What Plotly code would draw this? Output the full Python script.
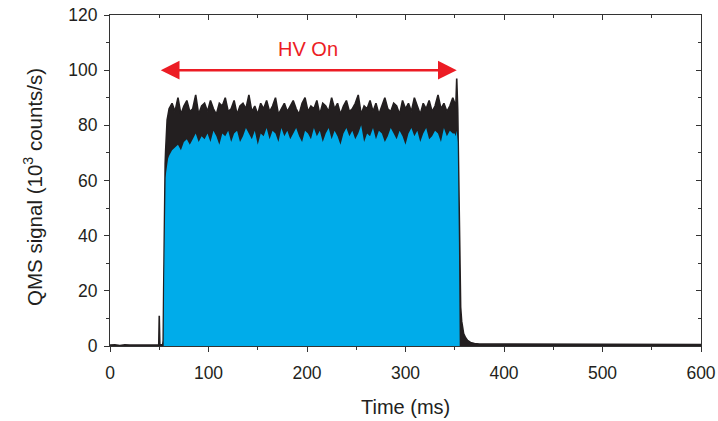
import plotly.graph_objects as go

# ---- data ----
# baseline before the pulse
pre_t = [0, 5, 10, 15, 20, 25, 30, 35, 40, 45, 49.5, 50, 50.6, 53.5]
pre_hi = [0.3, 0.4, 0.2, 0.4, 0.3, 0.3, 0.4, 0.2, 0.3, 0.4, 0.3, 11, 0.4, 0.4]
pre_lo = [0, 0, 0, 0, 0, 0, 0, 0, 0, 0, 0, 0, 0, 0]

# rising edge
rise_t = [54, 54.5, 55, 55.5, 56, 56.5, 57, 57.5, 58, 59]
rise_hi = [2, 20, 42, 58, 66, 71, 75, 79, 82, 84]
rise_lo = [0, 0, 25, 45, 56, 61, 63, 65, 66, 68]

# plateau (samples every 3 ms from 60 ms)
plat_t0, plat_dt = 60, 3
plat_hi = [86, 88, 85, 90, 84, 87, 89, 85, 86, 91, 84, 87, 88, 85, 89, 86, 84, 88, 87, 90,
           85, 86, 89, 84, 87, 88, 86, 91, 85, 87, 84, 88, 86, 89, 85, 87, 90, 84, 86, 88,
           85, 87, 89, 86, 84, 88, 90, 85, 87, 86, 89, 84, 88, 87, 85, 90, 86, 88, 84, 87,
           89, 85, 86, 88, 91, 84, 87, 86, 89, 85, 88, 84, 87, 90, 86, 85, 88, 87, 84, 89,
           86, 88, 85, 90, 87, 84, 88, 86, 89, 85, 87, 91, 86, 88, 85, 87, 90]
plat_lo = [69, 71, 72, 73, 71, 74, 75, 73, 75, 77, 74, 76, 75, 77, 74, 78, 76, 73, 77, 76,
           78, 74, 77, 78, 74, 76, 79, 77, 75, 78, 73, 77, 76, 79, 75, 78, 77, 74, 79, 76,
           78, 75, 77, 79, 76, 74, 78, 77, 75, 79, 76, 78, 74, 77, 79, 75, 78, 76, 73, 77,
           79, 76, 78, 75, 77, 80, 74, 77, 76, 79, 75, 78, 77, 74, 76, 79, 77, 75, 78, 76,
           73, 77, 79, 76, 78, 74, 77, 79, 75, 76, 78, 77, 74, 79, 76, 78, 77]

# falling edge
fall_t = [350, 351, 352, 353, 353.6, 354.2, 355, 356, 357, 358, 359, 361, 363, 366, 370, 375]
fall_hi = [88, 86, 97, 86, 70, 45, 24, 14, 9, 6, 4.5, 3, 2, 1.3, 0.9, 0.7]
fall_lo = [77, 76, 78, 74, 62, 38, 0, 0, 0, 0, 0, 0, 0, 0, 0, 0]

# baseline after the pulse
post_t = [380, 400, 420, 440, 460, 480, 500, 520, 540, 560, 580, 600]
post_hi = [0.7, 0.6, 0.5, 0.6, 0.5, 0.6, 0.5, 0.5, 0.6, 0.5, 0.6, 0.5]
post_lo = [0, 0, 0, 0, 0, 0, 0, 0, 0, 0, 0, 0]

hv_on_start, hv_on_end, hv_arrow_y = 50, 352, 100
hv_label = "HV On"

x_ticks = [0, 100, 200, 300, 400, 500, 600]
y_ticks = [0, 20, 40, 60, 80, 100, 120]

# ---- assemble ----
plat_t = [plat_t0 + plat_dt * i for i in range(len(plat_hi))]
t = pre_t + rise_t + plat_t + fall_t + post_t
hi = pre_hi + rise_hi + plat_hi + fall_hi + post_hi
lo = pre_lo + rise_lo + plat_lo + fall_lo + post_lo

BLUE = "#00ACEA"
BLACK = "#231F20"
RED = "#EC1C24"
AX = "#333333"
TXT = "#231F20"
FONT = "Liberation Sans, Arial, sans-serif"

fig = go.Figure()
fig.add_trace(go.Scatter(x=t, y=hi, mode="lines", fill="tozeroy",
                         fillcolor=BLACK, line=dict(color=BLACK, width=1.6),
                         hoverinfo="skip", showlegend=False))
fig.add_trace(go.Scatter(x=t, y=lo, mode="lines", fill="tozeroy",
                         fillcolor=BLUE, line=dict(color=BLUE, width=0),
                         hoverinfo="skip", showlegend=False))
# invisible trace to anchor the mirror axes
fig.add_trace(go.Scatter(x=[0], y=[0], xaxis="x2", yaxis="y2", mode="markers",
                         marker=dict(opacity=0), hoverinfo="skip", showlegend=False))

fig.add_annotation(x=hv_on_end, y=hv_arrow_y, ax=hv_on_start, ay=hv_arrow_y,
                   xref="x", yref="y", axref="x", ayref="y", text="",
                   showarrow=True, arrowhead=2, arrowside="end+start",
                   arrowsize=1.5, arrowwidth=2.5, arrowcolor=RED)
fig.add_annotation(x=(hv_on_start + hv_on_end) / 2, y=107.5, xref="x", yref="y",
                   text=hv_label, showarrow=False, xanchor="center", yanchor="middle",
                   font=dict(family=FONT, size=20, color=RED))

# axis titles
fig.add_annotation(x=(405 - 110) / 591, y=(346 - 407) / 331, xref="paper", yref="paper",
                   text="Time (ms)", showarrow=False, xanchor="center", yanchor="middle",
                   font=dict(family=FONT, size=20, color=TXT))
fig.add_annotation(x=(33 - 110) / 591, y=(346 - 187) / 331, xref="paper", yref="paper",
                   text="QMS signal (10<sup>3</sup> counts/s)", showarrow=False,
                   xanchor="center", yanchor="middle",
                   textangle=-90, font=dict(family=FONT, size=20.5, color=TXT))

axis_common = dict(showline=True, linecolor=AX, linewidth=1, showgrid=False,
                   zeroline=False, ticks="outside", ticklen=5, tickwidth=1,
                   tickcolor=AX, automargin=False,
                   tickfont=dict(family=FONT, size=17.5, color=TXT))

fig.update_layout(
    width=718, height=421,
    margin=dict(l=110, r=17, t=15, b=75, autoexpand=False),
    paper_bgcolor="white", plot_bgcolor="white",
    xaxis=dict(range=[0, 600], tickvals=x_ticks, ticklabelstandoff=6,
               minor=dict(dtick=50, ticklen=3, tickcolor=AX, ticks="outside"),
               **axis_common),
    yaxis=dict(range=[0, 120], tickvals=y_ticks, ticklabelstandoff=3,
               minor=dict(dtick=10, ticklen=3, tickcolor=AX, ticks="outside"),
               **axis_common),
    xaxis2=dict(overlaying="x", side="top", range=[0, 600], tickvals=x_ticks,
                showticklabels=False, showline=True, linecolor=AX, linewidth=1,
                ticks="inside", ticklen=5, tickcolor=AX, showgrid=False, zeroline=False,
                automargin=False,
                minor=dict(dtick=50, ticklen=3, tickcolor=AX, ticks="inside")),
    yaxis2=dict(overlaying="y", side="right", range=[0, 120], tickvals=y_ticks,
                showticklabels=False, showline=True, linecolor=AX, linewidth=1,
                ticks="inside", ticklen=5, tickcolor=AX, showgrid=False, zeroline=False,
                automargin=False,
                minor=dict(dtick=10, ticklen=3, tickcolor=AX, ticks="inside")),
)

fig.write_html("out.html")
